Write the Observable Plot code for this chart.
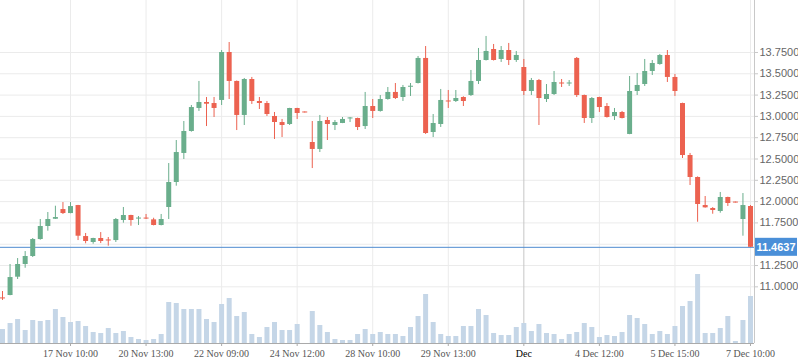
<!DOCTYPE html>
<html><head><meta charset="utf-8">
<script src="https://cdn.jsdelivr.net/npm/d3@7"></script>
<script src="https://cdn.jsdelivr.net/npm/@observablehq/plot@0.6"></script>
<style>
html,body{margin:0;padding:0;background:#fff;}
#chart{position:relative;width:798px;height:363px;overflow:hidden;}
#chart svg{position:absolute;left:0;top:0;}
</style></head><body><div id="chart"></div>
<script>
const opens = [10.870,10.898,11.113,11.262,11.356,11.555,11.708,11.793,11.907,11.860,
11.954,11.590,11.520,11.567,11.550,11.543,11.778,11.837,11.795,11.807,
11.786,11.720,11.931,12.224,12.565,12.823,13.093,13.163,13.151,13.187,
13.750,13.410,13.011,13.433,13.175,13.151,12.999,12.928,12.905,13.093,
13.052,12.694,12.612,12.952,12.893,12.917,12.970,12.975,12.881,13.116,
13.058,13.198,13.281,13.222,13.342,13.386,13.680,12.811,12.905,13.181,
13.175,13.222,13.245,13.410,13.656,13.785,13.668,13.773,13.656,13.574,
13.292,13.421,13.198,13.257,13.392,13.380,13.680,13.245,12.975,13.222,
13.116,12.999,13.046,12.788,13.292,13.374,13.527,13.609,13.715,13.457,
13.151,12.541,12.283,11.954,11.919,11.884,12.048,11.995,11.790,11.943];
const closes = [10.858,11.109,11.262,11.356,11.555,11.708,11.790,11.813,11.860,11.942,
11.594,11.532,11.567,11.532,11.538,11.790,11.837,11.778,11.807,11.795,
11.720,11.790,12.224,12.576,12.823,13.104,13.163,13.143,13.093,13.750,
13.410,13.011,13.433,13.175,13.151,13.022,12.928,12.893,13.093,13.034,
13.040,12.612,12.940,12.905,12.928,12.964,12.982,12.870,13.116,13.058,
13.198,13.281,13.210,13.339,13.354,13.680,12.799,12.917,13.187,13.169,
13.210,13.175,13.410,13.656,13.762,13.656,13.773,13.656,13.715,13.292,
13.421,13.210,13.257,13.398,13.380,13.392,13.245,12.975,13.210,13.104,
12.987,13.046,12.975,13.292,13.363,13.527,13.621,13.715,13.457,13.292,
12.541,12.283,11.966,11.927,11.896,12.048,11.978,11.983,11.954,11.4637];
const highs = [10.945,11.262,11.332,11.414,11.567,11.790,11.872,11.946,11.989,11.989,
11.956,11.626,11.570,11.637,11.579,11.802,11.931,11.840,11.825,11.849,
11.805,11.849,12.447,12.717,12.940,13.128,13.410,13.222,13.222,13.773,
13.867,13.415,13.445,13.457,13.222,13.175,13.046,12.964,13.095,13.095,
13.052,12.940,13.011,12.987,12.952,12.987,12.987,12.980,13.281,13.198,
13.245,13.339,13.386,13.363,13.386,13.703,13.820,13.022,13.316,13.304,
13.304,13.230,13.539,13.797,13.938,13.844,13.820,13.856,13.762,13.668,
13.445,13.433,13.374,13.527,13.433,13.421,13.691,13.250,13.222,13.225,
13.151,13.093,13.058,13.468,13.504,13.668,13.656,13.727,13.773,13.492,
13.155,12.565,12.290,12.060,11.930,12.107,12.052,11.995,12.095,11.954];
const lows = [10.840,10.895,11.086,11.218,11.344,11.547,11.653,11.790,11.849,11.857,
11.543,11.505,11.500,11.508,11.477,11.520,11.747,11.711,11.720,11.790,
11.715,11.715,11.790,12.181,12.494,12.815,13.058,12.881,12.987,13.128,
13.198,12.834,12.893,13.140,13.081,12.999,12.729,12.752,12.893,12.964,
13.040,12.388,12.576,12.717,12.834,12.915,12.928,12.834,12.846,12.975,
13.050,13.190,13.198,13.175,13.234,13.380,12.788,12.752,12.870,13.093,
13.163,13.116,13.234,13.374,13.650,13.650,13.633,13.597,13.633,13.245,
13.245,12.893,13.163,13.245,13.339,13.351,13.222,12.917,12.917,13.046,
12.980,12.952,12.970,12.785,13.245,13.351,13.480,13.600,13.398,13.234,
12.506,12.189,11.758,11.923,11.852,11.864,11.943,11.983,11.594,11.460];
const volumes = [14,20,24,13,23,22,23,34,26,21,
22,17,11,10,15,10,12,6,4,3,
4,9,41,40,34,34,34,24,21,39,
45,27,31,9,6,16,21,13,13,19,
0,32,18,11,4,3,3,9,14,9,
11,9,9,7,16,27,49,21,9,7,
7,17,17,34,28,10,8,8,16,20,
12,19,10,9,4,9,11,20,16,6,
8,7,11,28,25,19,9,12,9,17,
37,42,69,10,10,15,27,2,23,47];
const tickIndex = [9,19,29,39,49,59,69,79,89,99];
const tickLabels = ["17 Nov 10:00","20 Nov 13:00","22 Nov 09:00","24 Nov 12:00","28 Nov 10:00","29 Nov 13:00","Dec","4 Dec 12:00","5 Dec 15:00","7 Dec 10:00"];
const monthIndex = 69;
const priceTicks = [11,11.25,11.5,11.75,12,12.25,12.5,12.75,13,13.25,13.5,13.75];
const lastPrice = 11.4637;

const candles = opens.map((o,i)=>({i, open:o, close:closes[i], high:highs[i], low:lows[i], vol:volumes[i], dir: closes[i]>=o ? "up":"down"}));
const labelOf = new Map(tickIndex.map((t,k)=>[t,tickLabels[k]]));

const W=798, H=363;
const xDomain=[-0.265, 99.53];
const yDomain=[10.335, 14.36];
const green="#6aae8c", red="#ec6250";
// the tick label hidden behind the last-price badge in the reference
const visiblePriceTicks = priceTicks.filter(t => Math.abs(t - lastPrice) > 0.1);

const price = Plot.plot({
  width:W, height:H, marginLeft:0, marginRight:44, marginTop:0, marginBottom:20,
  style:{background:"transparent", overflow:"visible"},
  x:{type:"linear", domain:xDomain},
  y:{domain:yDomain},
  color:{domain:["up","down"], range:[green,red]},
  marks:[
    Plot.gridY(priceTicks,{stroke:"#ebebeb", strokeOpacity:1}),
    Plot.gridX(tickIndex.filter(t=>t!==monthIndex),{stroke:"#ebebeb", strokeOpacity:1}),
    Plot.ruleX([monthIndex],{stroke:"#c6c6c6"}),
    Plot.ruleY([lastPrice],{stroke:"#4f8bd0"}),
    Plot.ruleX(candles,{x:"i", y1:"low", y2:"high", stroke:"dir", strokeWidth:1}),
    Plot.ruleX(candles,{x:"i", y1:"open", y2:"close", stroke:"dir", strokeWidth:5}),
    Plot.ruleX([xDomain[1]],{stroke:"#c8c8c8"}),
    Plot.ruleY([yDomain[0]],{stroke:"#aaaaaa"}),
    Plot.axisY(visiblePriceTicks,{anchor:"right", label:null, tickSize:3, tickPadding:2, tickFormat:d=>d.toFixed(4), fontSize:11, fontFamily:"Liberation Sans, Arial, sans-serif", fill:"#666", stroke:"#c8c8c8"}),
    Plot.axisX(tickIndex.filter(t=>t!==monthIndex),{label:null, tickSize:3, tickPadding:3, tickFormat:d=>labelOf.get(d), fontSize:10, fontFamily:"Liberation Serif, Times New Roman, serif", fill:"#555", stroke:"#aaa"}),
    Plot.axisX([monthIndex],{label:null, tickSize:3, tickPadding:3, tickFormat:d=>labelOf.get(d), fontSize:10, fontFamily:"Liberation Serif, Times New Roman, serif", fill:"#000", stroke:"#aaa"})
  ]
});

const volume = Plot.plot({
  width:W, height:H, marginLeft:0, marginRight:44, marginTop:0, marginBottom:20,
  style:{background:"transparent"},
  x:{type:"linear", domain:xDomain, axis:null},
  y:{domain:[0,343], axis:null},
  marks:[
    Plot.ruleX(candles,{x:"i", y1:0, y2:"vol", stroke:"#c5d6e7", strokeWidth:5})
  ]
});

const chart = document.getElementById("chart");
chart.appendChild(price);
chart.appendChild(volume);

// last-price badge on the right axis
const ly = price.scale("y").apply(lastPrice);
const lx = price.scale("x").range[1];
const svg = d3.select(price);
svg.append("rect").attr("x",lx+1).attr("y",ly-9).attr("width",W-lx-2).attr("height",18).attr("fill","#4a8fd8");
svg.append("text").attr("x",lx+1+(W-lx-2)/2).attr("y",ly).attr("dy","0.35em").attr("text-anchor","middle")
  .attr("fill","#fff").attr("font-size",11).attr("font-weight","bold").attr("font-family","Liberation Sans, Arial, sans-serif").text(lastPrice.toFixed(4));
</script>
</body></html>
